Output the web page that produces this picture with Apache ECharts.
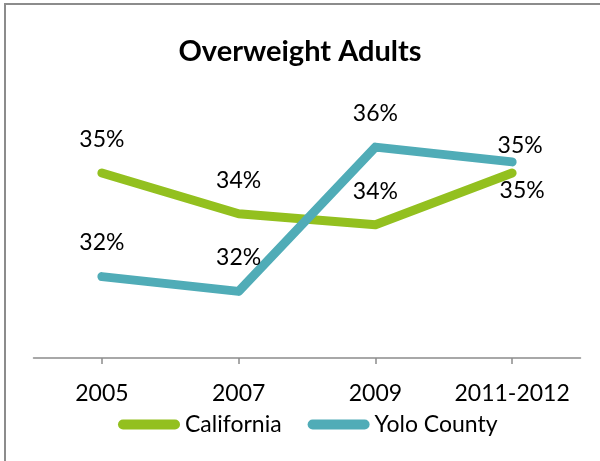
<!DOCTYPE html>
<html>
<head>
<meta charset="utf-8">
<script src="https://cdn.jsdelivr.net/npm/echarts@6/dist/echarts.min.js"></script>
<style>
  html, body { margin: 0; padding: 0; background: #fff; }
  #chart { position: absolute; left: 0; top: 0; width: 600px; height: 461px; }
  #frame { position: absolute; left: 4px; top: 3px; width: 600px; height: 470px;
           border-top: 2px solid #8c8c8c; border-left: 2px solid #8c8c8c; pointer-events: none; }
</style>
</head>
<body>
<div id="chart"></div>
<div id="frame"></div>
<script>
// Survey years and share of adults who are overweight
const years = ['2005', '2007', '2009', '2011-2012'];
const california = [0.350, 0.339, 0.336, 0.350];
const yolo = [0.322, 0.318, 0.357, 0.353];

const FONT = 'Lato, "Noto Sans", sans-serif';
const pct = p => Math.round(p.value * 100) + '%';

// Last-year labels sit beside the line end rather than above it
function withLabels(values, lastLabel) {
  return values.map((v, i) => i === values.length - 1 ? { value: v, label: lastLabel } : v);
}

const chart = echarts.init(document.getElementById('chart'), null, { renderer: 'canvas' });
chart.setOption({
  animation: false,
  backgroundColor: '#ffffff',
  title: {
    text: 'Overweight Adults',
    left: 'center',
    top: 32,
    textStyle: { fontFamily: FONT, fontSize: 29, fontWeight: 'bold', color: '#000' }
  },
  legend: {
    left: 113,
    top: 408,
    itemWidth: 62,
    itemHeight: 10,
    itemGap: 26,
    icon: 'path://M5,0 H57 A5,5 0 0 1 57,10 H5 A5,5 0 0 1 5,0 Z',
    textStyle: { fontFamily: FONT, fontSize: 23, color: '#000' },
    data: ['California', 'Yolo County']
  },
  grid: { left: 33.5, right: 19.5, top: 62, bottom: 103 },
  xAxis: {
    type: 'category',
    data: years,
    boundaryGap: true,
    axisLine: { lineStyle: { color: '#8c8c8c', width: 1.5 } },
    axisTick: { show: true, interval: 0, alignWithLabel: true, length: 6, lineStyle: { color: '#8c8c8c', width: 1.5 } },
    axisLabel: { interval: 0, fontFamily: FONT, fontSize: 23, color: '#000', margin: 24 }
  },
  yAxis: {
    type: 'value',
    min: 0.30,
    max: 0.38,
    show: false,
    splitLine: { show: false }
  },
  series: [
    {
      name: 'California',
      type: 'line',
      data: withLabels(california, { position: 'bottom', distance: 6, offset: [10, 0] }),
      showSymbol: true,
      symbol: 'circle',
      symbolSize: 0.1,
      color: '#93c01f',
      lineStyle: { width: 9, color: '#93c01f', cap: 'round', join: 'round' },
      label: {
        show: true, position: 'top', distance: 22, formatter: pct,
        fontFamily: FONT, fontSize: 23, color: '#000'
      },
      z: 2
    },
    {
      name: 'Yolo County',
      type: 'line',
      data: withLabels(yolo, { position: 'top', distance: 5, offset: [8, 0] }),
      showSymbol: true,
      symbol: 'circle',
      symbolSize: 0.1,
      color: '#50acb7',
      lineStyle: { width: 9, color: '#50acb7', cap: 'round', join: 'round' },
      label: {
        show: true, position: 'top', distance: 22, formatter: pct,
        fontFamily: FONT, fontSize: 23, color: '#000'
      },
      z: 3
    }
  ]
});
</script>
</body>
</html>
